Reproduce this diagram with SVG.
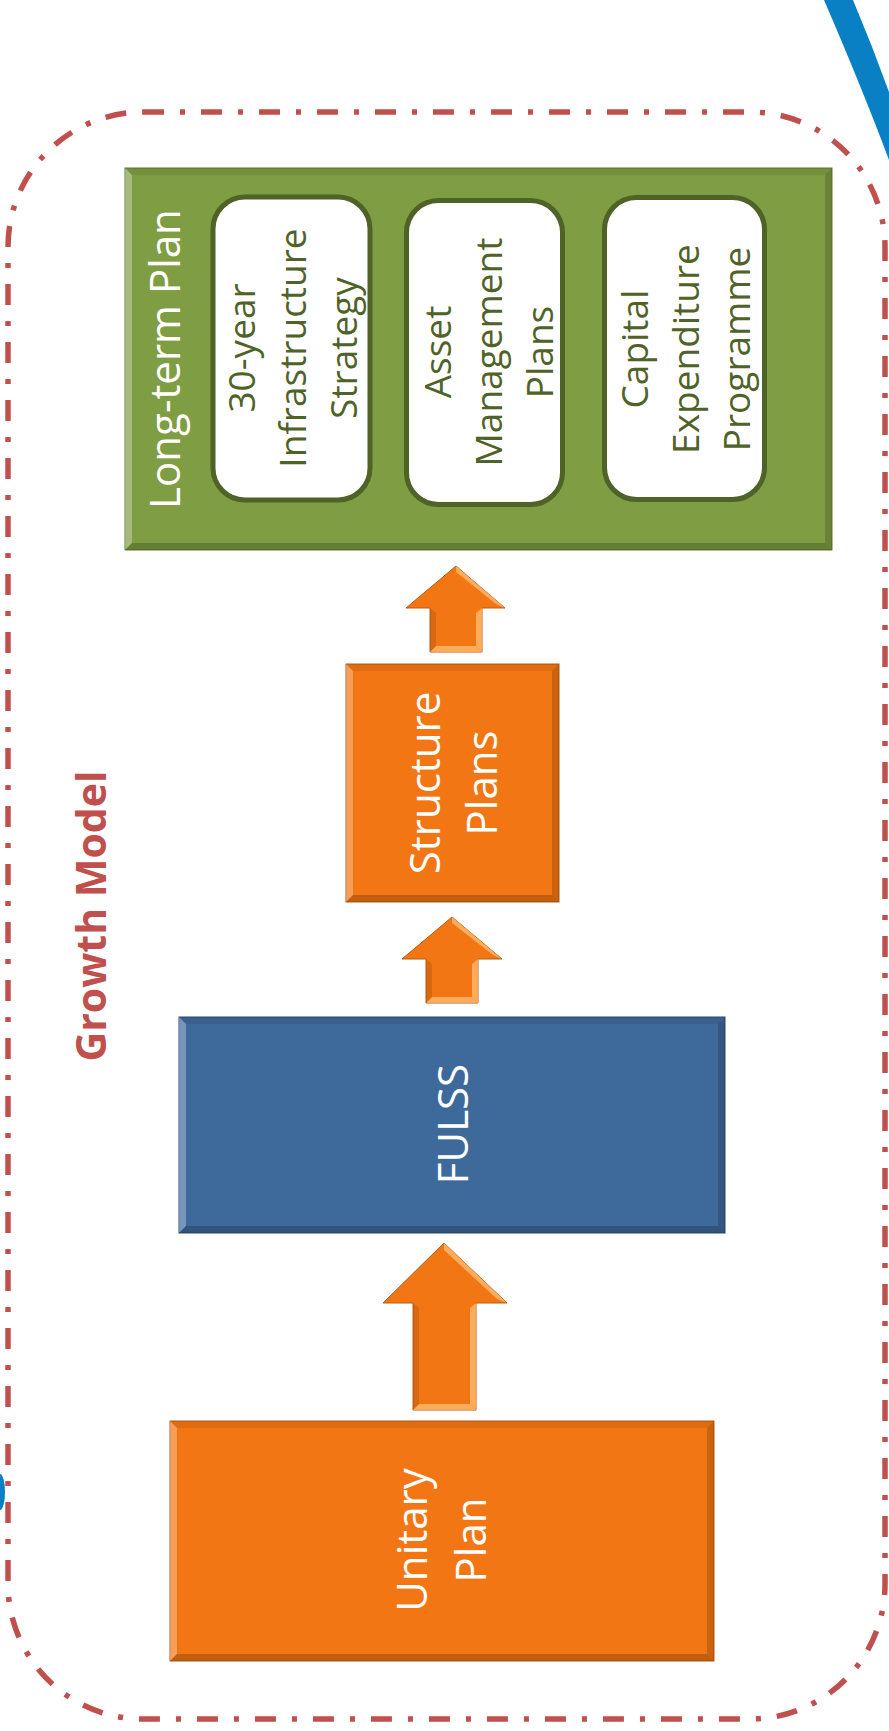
<svg xmlns="http://www.w3.org/2000/svg" width="889" height="1731" viewBox="0 0 889 1731">
<style>
.lbl{font-family:"Open Sans","Liberation Sans",sans-serif;fill:#fff;text-anchor:middle}
.inner{font-family:"Open Sans","Liberation Sans",sans-serif;fill:#4F6228;text-anchor:middle;font-size:37px}
.bl{fill:#fff;opacity:.3}
.bt{fill:#000;opacity:.08}
.br{fill:#000;opacity:.17}
.bb{fill:#000;opacity:.2}
.orange{fill:#F37614}
.arrow{fill:#F37614;stroke:#B85A12;stroke-width:1}
.hl{fill:#FFC47A;opacity:.7}
.dk{fill:#9A4A0C;opacity:.3}
.ibox{fill:#fff;stroke:#4F6228;stroke-width:5}
</style>
<rect width="889" height="1731" fill="#fff"/>
<g id="decor">
<path d="M824 0 L853 0 Q872 45 889 92 L889 160 Q862 88 824 0 Z" fill="#0A80C4"/>
<ellipse cx="0" cy="1492" rx="5" ry="18" fill="#0A80C4"/>
</g>
<g id="growth-model">
<rect x="8" y="112" width="877" height="1607" rx="135" ry="135" fill="none" stroke="#C0504D" stroke-width="5.5" stroke-dasharray="21 16 5 16"/>
<text transform="translate(106,916) rotate(-90)" font-family="'Open Sans','Liberation Sans',sans-serif" font-weight="bold" font-size="41" fill="#C0504D" text-anchor="middle">Growth Model</text>
</g>
<g id="long-term-plan">
<rect x="125" y="168" width="707" height="382" fill="#7F9D43" stroke="#5E7A2E" stroke-width="1"/>
<polygon class="bl" points="125,168 132,175 132,543 125,550"/>
<polygon class="bt" points="125,168 832,168 825,175 132,175"/>
<polygon class="br" points="832,168 832,550 825,543 825,175"/>
<polygon class="bb" points="125,550 832,550 825,543 132,543"/>
<text class="lbl" font-size="42" transform="translate(180,359) rotate(-90)">Long-term Plan</text>
</g>
<g id="infra-strategy">
<rect class="ibox" x="213" y="197" width="157" height="303" rx="32" ry="32"/>
<text class="inner" transform="translate(255,348) rotate(-90)">30-year</text>
<text class="inner" transform="translate(306,348) rotate(-90)">Infrastructure</text>
<text class="inner" transform="translate(357,348) rotate(-90)">Strategy</text>
</g>
<g id="asset-plans">
<rect class="ibox" x="406.5" y="200.5" width="156" height="304" rx="32" ry="32"/>
<text class="inner" transform="translate(451,352) rotate(-90)">Asset</text>
<text class="inner" transform="translate(502,352) rotate(-90)">Management</text>
<text class="inner" transform="translate(553,352) rotate(-90)">Plans</text>
</g>
<g id="capex">
<rect class="ibox" x="604.5" y="197.5" width="160" height="302" rx="32" ry="32"/>
<text class="inner" transform="translate(648,349) rotate(-90)">Capital</text>
<text class="inner" transform="translate(699,349) rotate(-90)">Expenditure</text>
<text class="inner" transform="translate(750,349) rotate(-90)">Programme</text>
</g>
<g id="structure-plans">
<rect class="orange" x="346" y="664" width="213" height="238" stroke="#B85A12" stroke-width="1"/>
<polygon class="bl" points="346,664 353,671 353,895 346,902"/>
<polygon class="bt" points="346,664 559,664 552,671 353,671"/>
<polygon class="br" points="559,664 559,902 552,895 552,671"/>
<polygon class="bb" points="346,902 559,902 552,895 353,895"/>
<text class="lbl" font-size="42" transform="translate(440,783) rotate(-90)">Structure</text>
<text class="lbl" font-size="42" transform="translate(497,783) rotate(-90)">Plans</text>
</g>
<g id="fulss">
<rect x="179" y="1017" width="546" height="216" fill="#3E699B" stroke="#2C4D75" stroke-width="1"/>
<polygon class="bl" points="179,1017 186,1024 186,1226 179,1233"/>
<polygon class="bt" points="179,1017 725,1017 718,1024 186,1024"/>
<polygon class="br" points="725,1017 725,1233 718,1226 718,1024"/>
<polygon class="bb" points="179,1233 725,1233 718,1226 186,1226"/>
<text class="lbl" font-size="42" transform="translate(468,1124) rotate(-90)">FULSS</text>
</g>
<g id="unitary-plan">
<rect class="orange" x="170" y="1421" width="544" height="240" stroke="#B85A12" stroke-width="1"/>
<polygon class="bl" points="170,1421 177,1428 177,1654 170,1661"/>
<polygon class="bt" points="170,1421 714,1421 707,1428 177,1428"/>
<polygon class="br" points="714,1421 714,1661 707,1654 707,1428"/>
<polygon class="bb" points="170,1661 714,1661 707,1654 177,1654"/>
<text class="lbl" font-size="42" transform="translate(427,1540) rotate(-90)">Unitary</text>
<text class="lbl" font-size="42" transform="translate(486,1540) rotate(-90)">Plan</text>
</g>
<g id="connectors">
<g id="arrow-structure-to-ltp">
<polygon class="arrow" points="456,566 505,608 482,608 482,652 430,652 430,608 406,608"/>
<polygon class="hl" points="476,613 482,608 482,652 476,646"/>
<polygon class="hl" points="430,652 482,652 476,646 436,646"/>
<polygon class="dk" points="430,608 436,613 436,646 430,652"/>
<polygon class="hl" points="456,566 505,608 496,604 456,572"/>
</g>
<g id="arrow-fulss-to-structure">
<polygon class="arrow" points="452,917 502,959 478,959 478,1003 426,1003 426,959 402,959"/>
<polygon class="hl" points="472,964 478,959 478,1003 472,997"/>
<polygon class="hl" points="426,1003 478,1003 472,997 432,997"/>
<polygon class="dk" points="426,959 432,964 432,997 426,1003"/>
<polygon class="hl" points="452,917 502,959 493,955 452,923"/>
</g>
<g id="arrow-unitary-to-fulss">
<polygon class="arrow" points="444,1243 507,1303 476,1303 476,1410 413,1410 413,1303 383,1303"/>
<polygon class="hl" points="470,1308 476,1303 476,1410 470,1404"/>
<polygon class="hl" points="413,1410 476,1410 470,1404 419,1404"/>
<polygon class="dk" points="413,1303 419,1308 419,1404 413,1410"/>
<polygon class="hl" points="444,1243 507,1303 497,1299 444,1250"/>
</g>
</g>
</svg>
